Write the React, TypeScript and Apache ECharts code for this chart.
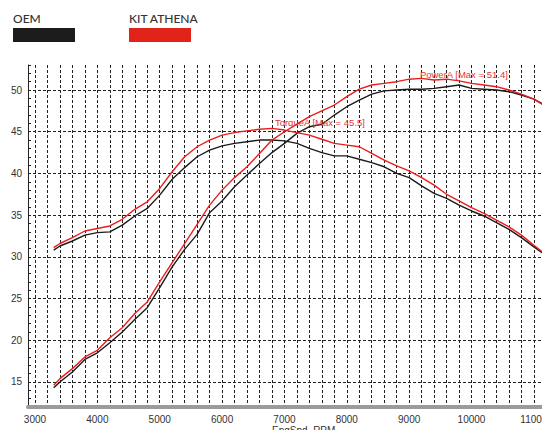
import React, { useEffect, useRef } from "react";
import * as echarts from "echarts";

// Engine speed samples (RPM)
const rpm = [
  3300, 3400, 3600, 3800, 4000, 4200, 4400, 4600, 4800, 5000, 5200, 5400, 5600, 5800,
  6000, 6200, 6400, 6600, 6800, 7000, 7200, 7400, 7600, 7800, 8000, 8200, 8400, 8600,
  8800, 9000, 9200, 9400, 9600, 9800, 10000, 10200, 10400, 10600, 10800, 11000, 11150,
];

// OEM
const oemPower = [
  14.3, 15.0, 16.2, 17.7, 18.5, 19.7, 21.0, 22.5, 23.9, 26.3, 28.8, 30.9, 32.7, 35.3,
  36.7, 38.4, 39.8, 41.2, 42.5, 43.6, 44.8, 45.6, 45.9, 47.0, 48.0, 48.8, 49.5, 49.9,
  50.0, 50.1, 50.1, 50.2, 50.4, 50.6, 50.2, 50.1, 50.0, 49.8, 49.4, 48.9, 48.3,
];
const oemTorque = [
  30.8, 31.3, 31.9, 32.6, 32.9, 33.0, 33.8, 34.9, 35.8, 37.4, 39.3, 40.7, 42.0, 42.8,
  43.3, 43.6, 43.8, 44.0, 44.0, 43.9, 43.6, 43.0, 42.5, 42.1, 42.1, 41.7, 41.3, 40.8,
  40.0, 39.5, 38.5, 37.6, 37.0, 36.2, 35.5, 34.9, 34.1, 33.3, 32.3, 31.2, 30.4,
];

// KIT ATHENA
const athenaPower = [
  14.6, 15.4, 16.6, 18.0, 18.8, 20.3, 21.5, 23.2, 24.6, 27.0, 29.3, 31.6, 33.9, 36.2,
  38.0, 39.5, 40.8, 42.4, 44.0, 45.0, 45.9, 46.8, 47.5, 48.2, 49.2, 50.1, 50.6, 50.8,
  51.0, 51.3, 51.4, 51.2, 51.3, 51.1, 50.8, 50.6, 50.4, 50.0, 49.5, 48.9, 48.2,
];
const athenaTorque = [
  31.1, 31.6, 32.3, 33.1, 33.4, 33.7, 34.5, 35.7, 36.6, 38.2, 40.2, 42.0, 43.2, 44.0,
  44.6, 44.9, 45.1, 45.3, 45.4, 45.2, 44.9, 44.6, 44.1, 43.6, 43.4, 43.2, 42.4, 41.6,
  40.9, 40.3, 39.5, 38.6, 37.5, 36.7, 35.9, 35.2, 34.4, 33.6, 32.6, 31.4, 30.5,
];

// Axis ticks
const xLabelTicks = [3000, 4000, 5000, 6000, 7000, 8000, 9000, 10000, 11000];
const xGridTicks = [
  3000, 3200, 3400, 3600, 3800, 4000, 4200, 4400, 4600, 4800, 5000, 5200, 5400, 5600,
  5800, 6000, 6200, 6400, 6600, 6800, 7000, 7200, 7400, 7600, 7800, 8000, 8200, 8400,
  8600, 8800, 9000, 9200, 9400, 9600, 9800, 10000, 10200, 10400, 10600, 10800, 11000,
];
const yLabelTicks = [15, 20, 25, 30, 35, 40, 45, 50];
const yMinorTicks = [
  13, 14, 15, 16, 17, 18, 19, 20, 21, 22, 23, 24, 25, 26, 27, 28, 29, 30, 31, 32, 33,
  34, 35, 36, 37, 38, 39, 40, 41, 42, 43, 44, 45, 46, 47, 48, 49, 50, 51, 52, 53,
];

// Annotations
const powerLabel = { text: "PowerA [Max = 51.4]", rpm: 9172, value: 51.9 };
const torqueLabel = { text: "TorqueA [Max = 45.5]", rpm: 6847, value: 46.05 };

const BLACK = "#1b1b1b";
const RED = "#ec1c1c";
const LABEL_RED = "#e8342c";
const FONT = "'Liberation Sans', Arial, sans-serif";

export default function App() {
  const ref = useRef<HTMLDivElement>(null);

  useEffect(() => {
    if (!ref.current) return;
    const chart = echarts.init(ref.current, null, { renderer: "svg" });
    const toPairs = (vals: number[]) => rpm.map((r, i) => [r, vals[i]]);
    const lineSeries = (name: string, vals: number[], color: string, extra: any = {}) => ({
      name,
      type: "line",
      data: toPairs(vals),
      showSymbol: false,
      symbol: "none",
      lineStyle: { color, width: 1.4 },
      itemStyle: { color },
      silent: true,
      ...extra,
    });
    const labelPoint = (l: { text: string; rpm: number; value: number }) => ({
      symbol: "circle",
      symbolSize: 0,
      silent: true,
      data: [
        {
          coord: [l.rpm, l.value],
          label: {
            show: true,
            position: "right",
            distance: 0,
            formatter: l.text,
            color: LABEL_RED,
            fontSize: 9.5,
            fontFamily: FONT,
          },
        },
      ],
    });

    chart.setOption({
      animation: false,
      backgroundColor: "#ffffff",
      textStyle: { fontFamily: FONT },
      grid: { left: 28, right: 0, top: 65, bottom: 23, containLabel: false, outerBoundsMode: "none" },
      xAxis: {
        type: "value",
        min: 2888,
        max: 11130,
        axisLine: { show: true, onZero: false, lineStyle: { color: "#9b9b9b", width: 4 } },
        axisTick: { show: false, customValues: xGridTicks },
        axisLabel: {
          customValues: xLabelTicks,
          formatter: (v: number) => String(v),
          fontSize: 10,
          color: "#333",
          margin: 7,
          fontFamily: FONT,
        },
        splitLine: { show: true, lineStyle: { color: "#222", width: 1, type: [3, 2] } },
      },
      yAxis: [
        {
          type: "value",
          min: 12,
          max: 53,
          position: "left",
          axisLine: { show: true, onZero: false, lineStyle: { color: "#222", width: 1 } },
          axisTick: { show: false, customValues: yLabelTicks },
          axisLabel: {
            customValues: yLabelTicks,
            formatter: (v: number) => String(v),
            fontSize: 10,
            color: "#333",
            margin: 6,
            fontFamily: FONT,
          },
          splitLine: { show: true, lineStyle: { color: "#222", width: 1, type: [3, 2] } },
        },
        {
          type: "value",
          min: 12,
          max: 53,
          position: "left",
          axisLine: { show: false },
          axisTick: {
            show: true,
            inside: true,
            length: 3,
            customValues: yMinorTicks,
            lineStyle: { color: "#222", width: 1 },
          },
          axisLabel: { show: false },
          splitLine: { show: false },
        },
      ],
      series: [
        lineSeries("OEM Power", oemPower, BLACK),
        lineSeries("OEM Torque", oemTorque, BLACK),
        lineSeries("KIT ATHENA Power", athenaPower, RED, { markPoint: labelPoint(powerLabel) }),
        lineSeries("KIT ATHENA Torque", athenaTorque, RED, { markPoint: labelPoint(torqueLabel) }),
      ],
      graphic: [
        {
          type: "text",
          left: 13,
          top: 12,
          silent: true,
          style: {
            text: "OEM",
            fill: "#333",
            font: "500 12px Lato, 'Open Sans', sans-serif",
          },
        },
        {
          type: "rect",
          left: 13,
          top: 28,
          silent: true,
          shape: { width: 62, height: 14 },
          style: { fill: "#1c1c1c" },
        },
        {
          type: "text",
          left: 129,
          top: 12,
          silent: true,
          style: {
            text: "KIT ATHENA",
            fill: "#333",
            font: "500 12px Lato, 'Open Sans', sans-serif",
          },
        },
        {
          type: "rect",
          left: 129,
          top: 28,
          silent: true,
          shape: { width: 62, height: 14 },
          style: { fill: "#e2231a" },
        },
        {
          type: "text",
          left: 272,
          top: 425,
          silent: true,
          style: {
            text: "EngSpd_RPM",
            fill: "#333",
            font: "10px 'Liberation Sans', Arial, sans-serif",
          },
        },
      ],
    });
    return () => chart.dispose();
  }, []);

  return (
    <div
      ref={ref}
      style={{ position: "absolute", left: 0, top: 0, width: 542, height: 430 }}
    />
  );
}
